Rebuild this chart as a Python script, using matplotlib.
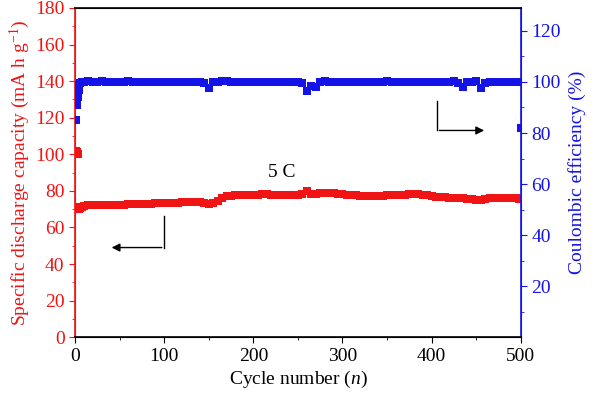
import numpy as np
import matplotlib
matplotlib.use('Agg')
import matplotlib.pyplot as plt

plt.rcParams['font.family'] = ['Liberation Serif', 'DejaVu Serif']
plt.rcParams['mathtext.fontset'] = 'custom'
plt.rcParams['mathtext.rm'] = 'Liberation Serif'
plt.rcParams['mathtext.it'] = 'Liberation Serif:italic'

RED = '#f01414'
BLUE = '#1414e6'

# cycle numbers (first cycles individually, then every 5th)
cycles = [1, 2, 3, 4, 5, 6, 8] + list(range(10, 500, 5)) + [498, 500]

# specific discharge capacity (mA h g-1)
capacity = [102, 101, 100, 71, 70, 70.5, 71,
            71.5, 72, 72, 72, 72, 72.3, 72.3, 72.5, 72.5, 72.5,
            72.7, 72.7, 72.8, 73, 73, 73, 73.2, 73.2, 73.3, 73.5,
            73.5, 73.6, 73.7, 73.8, 74, 74, 74, 73.5, 73, 73.5,
            74.5, 76, 77, 77.3, 77.5, 77.6, 77.8, 78, 78, 78,
            78.2, 78.2, 78, 78, 78, 78, 78, 78, 78, 78.5,
            80, 78.5, 78.5, 78.8, 79, 79, 78.8, 78.5, 78.2, 78,
            77.8, 77.5, 77.3, 77.2, 77, 77, 77, 77.2, 77.5, 77.5,
            77.7, 78, 78, 78.3, 78.5, 78.5, 78, 77.5, 77, 76.7,
            76.5, 76.5, 76.3, 76.2, 76, 76, 75.8, 75.5, 75, 75,
            75.5, 76, 76, 76.2, 76.2, 76.3, 76.3, 76, 75.8, 75.5]

# coulombic efficiency (%)
efficiency = [85, 91, 94, 97, 99, 99.5, 100,
              100, 100.2, 99.8, 100, 100.2, 99.8, 100, 100.1, 99.9, 100,
              100.2, 99.8, 100, 100, 99.9, 100.1, 100, 99.8, 100, 100.1,
              99.9, 100, 100, 99.8, 100, 100.1, 100, 99.5, 97.8, 99.8,
              100, 100.2, 100.5, 100, 99.9, 100, 100, 100.1, 99.9, 100,
              100, 99.8, 100, 100.1, 99.9, 100, 100, 99.8, 100, 99.5,
              96.5, 98.5, 98, 100, 100.2, 100, 99.9, 100, 100.1, 99.9,
              100, 100, 99.8, 100, 100.1, 100, 99.9, 100, 100.2, 100,
              99.9, 100, 100.1, 99.8, 100, 100, 100, 99.9, 100, 100.1,
              100, 99.8, 100, 100.2, 99.6, 98, 99.8, 100, 100.2, 97.8,
              99.5, 100, 100, 99.8, 100, 100.1, 100, 100, 99.8, 82]

fig = plt.figure(figsize=(6, 3.99), dpi=100)
ax = fig.add_axes([0.125, 0.155, 0.743, 0.825])
ax2 = ax.twinx()

ax.plot(cycles, capacity, 's', color=RED, markersize=5.5, markeredgewidth=0, zorder=3)
ax2.plot(cycles, efficiency, 's', color=BLUE, markersize=5.5, markeredgewidth=0, zorder=3)

ax.set_xlim(0, 500)
ax.set_ylim(0, 180)
ax2.set_ylim(0, 129)

ax.set_xticks([0, 100, 200, 300, 400, 500])
ax.set_xticks(range(50, 500, 100), minor=True)
ax.set_yticks(range(0, 181, 20))
ax.set_yticks(range(10, 180, 20), minor=True)
ax2.set_yticks(range(20, 121, 20))
ax2.set_yticks(range(10, 130, 20), minor=True)

ax.tick_params(axis='x', which='major', direction='out', length=4, labelsize=14, colors='black')
ax.tick_params(axis='x', which='minor', direction='out', length=2.5)
ax.tick_params(axis='y', which='major', direction='out', length=4, labelsize=14, colors=RED)
ax.tick_params(axis='y', which='minor', direction='out', length=2.5, colors=RED)
ax2.tick_params(axis='y', which='major', direction='out', length=4, labelsize=14, colors=BLUE)
ax2.tick_params(axis='y', which='minor', direction='out', length=2.5, colors=BLUE)

ax.spines['left'].set_color(RED)
ax2.spines['left'].set_color(RED)
ax2.spines['right'].set_color(BLUE)
ax.spines['right'].set_color(BLUE)
for sp in ax2.spines.values():
    sp.set_linewidth(1.2)

ax.set_xlabel('Cycle number ($n$)', fontsize=14, labelpad=3)
ax.set_ylabel('Specific discharge capacity (mA h g$^{-1}$)', fontsize=14, color=RED, labelpad=2)
ax2.set_ylabel('Coulombic efficiency (%)', fontsize=14, color=BLUE, labelpad=5)

ax.text(232, 90, '5 C', fontsize=14, ha='center', va='center')

# arrows pointing to the axes
ax.plot([100, 100], [66, 49], color='black', lw=1)
ax.annotate('', xy=(38, 49), xytext=(100.5, 49),
            arrowprops=dict(arrowstyle='-|>', color='black', lw=1, mutation_scale=12))
ax2.plot([406, 406], [92.5, 81], color='black', lw=1)
ax2.annotate('', xy=(462, 81), xytext=(405.5, 81),
             arrowprops=dict(arrowstyle='-|>', color='black', lw=1, mutation_scale=12))

fig.savefig('out.png', dpi=100)
